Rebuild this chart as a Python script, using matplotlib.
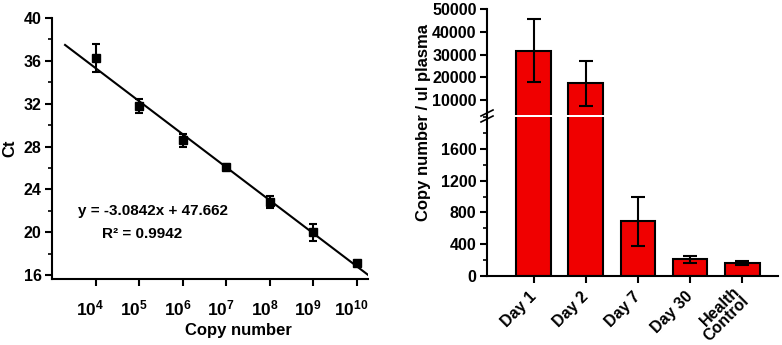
import matplotlib
matplotlib.use("Agg")
import matplotlib.pyplot as plt
from matplotlib.lines import Line2D
from matplotlib.ticker import MultipleLocator
from matplotlib.transforms import ScaledTranslation
import numpy as np

plt.rcParams["font.family"] = ["Liberation Sans", "DejaVu Sans"]
plt.rcParams["font.weight"] = "bold"
plt.rcParams["mathtext.fontset"] = "custom"
plt.rcParams["mathtext.rm"] = "Liberation Sans:bold"
plt.rcParams["mathtext.bf"] = "Liberation Sans:bold"
plt.rcParams["mathtext.it"] = "Liberation Sans:bold"

# standard curve: log10(copy number) vs Ct
log_copies = [4, 5, 6, 7, 8, 9, 10]
ct_mean = [36.25, 31.75, 28.6, 26.1, 22.85, 20.0, 17.1]
ct_err = [1.3, 0.65, 0.6, 0.3, 0.55, 0.8, 0.15]
fit_slope = -3.0842
fit_intercept = 47.662
fit_range = [3.3, 10.3]

# plasma copy number per time point
days = ["Day 1", "Day 2", "Day 7", "Day 30", "Health\nControl"]
copies = [31800, 17300, 690, 210, 168]
copies_err = [13900, 9800, 310, 45, 25]

RED = "#f00000"
LW = 1.5
FS = 11.5

fig = plt.figure(figsize=(7.82, 3.45), dpi=100)
W, H = 782, 345


def px_axes(left, top, right, bottom):
    return fig.add_axes([left / W, 1 - bottom / H, (right - left) / W, (bottom - top) / H])


def style(ax):
    for s in ("top", "right"):
        ax.spines[s].set_visible(False)
    for s in ("left", "bottom"):
        ax.spines[s].set_linewidth(LW)
    ax.tick_params(which="major", length=5, width=LW, labelsize=FS, pad=2.5)
    ax.tick_params(which="minor", length=3, width=1.2)
    for lbl in ax.get_xticklabels() + ax.get_yticklabels():
        lbl.set_fontweight("bold")


# ---- left panel ----
ax1 = px_axes(52, 18, 368, 279)
ax1.errorbar(log_copies, ct_mean, yerr=ct_err, fmt="s", color="black",
             ms=5.5, capsize=3, elinewidth=LW, capthick=LW)
xf = np.array(fit_range)
ax1.plot(xf, fit_slope * xf + fit_intercept, color="black", lw=LW)
ax1.set_xlim(3, 10.26)
ax1.set_ylim(15.63, 40)
ax1.set_yticks([16, 20, 24, 28, 32, 36, 40])
ax1.yaxis.set_minor_locator(MultipleLocator(2))
ax1.set_xticks(log_copies)
ax1.set_xticklabels([rf"$10^{{{n}}}$" for n in log_copies])
style(ax1)
ax1.tick_params(axis="x", pad=9, labelsize=12.5)
shift = ScaledTranslation(-5 / 100, 0, fig.dpi_scale_trans)
for lbl in ax1.get_xticklabels():
    lbl.set_transform(lbl.get_transform() + shift)
ax1.set_ylabel("Ct", fontsize=FS + 0.5, fontweight="bold")
ax1.yaxis.set_label_coords(-0.11, 0.5)
ax1.set_xlabel("Copy number", fontsize=FS + 0.5, fontweight="bold")
ax1.xaxis.set_label_coords(0.59, -0.17)
ax1.text(3.6, 21.6, f"y = {fit_slope}x + {fit_intercept}", fontsize=11, fontweight="bold")
ax1.text(4.15, 19.5, "R² = 0.9942", fontsize=11, fontweight="bold")

# ---- right panel (broken axis) ----
x = np.arange(len(days))
ax_hi = px_axes(487, 9.3, 778, 115)
ax_lo = px_axes(487, 117, 778, 276)
for ax in (ax_hi, ax_lo):
    ax.bar(x, copies, width=0.67, color=RED, edgecolor="black", linewidth=LW, zorder=2)
    ax.errorbar(x, copies, yerr=copies_err, fmt="none", ecolor="black",
                capsize=5, elinewidth=LW, capthick=LW, zorder=3)
    ax.set_xlim(-0.9, 4.69)
    style(ax)

ax_hi.set_ylim(3400, 50000)
ax_hi.set_yticks([10000, 20000, 30000, 40000, 50000])
ax_hi.spines["bottom"].set_visible(False)
ax_hi.tick_params(axis="x", bottom=False, labelbottom=False)

ax_lo.set_ylim(0, 2000)
ax_lo.set_yticks([0, 400, 800, 1200, 1600])
ax_lo.yaxis.set_minor_locator(MultipleLocator(200))
ax_lo.set_xticks(x)
ax_lo.set_xticklabels(days, rotation=45, ha="right", va="center", rotation_mode="anchor",
                      fontsize=FS, fontweight="bold", linespacing=0.85)
ax_lo.tick_params(axis="x", pad=8)
for lbl in ax_lo.get_xticklabels():
    lbl.set_fontweight("bold")

# break marks on left spine
for yb in (113, 119):
    fig.add_artist(Line2D([(481) / W, (493) / W], [1 - (yb + 3) / H, 1 - (yb - 3) / H],
                          color="black", lw=1.2))

fig.text(423 / W, 1 - 123 / H, "Copy number / ul plasma", rotation=90,
         ha="center", va="center", fontsize=FS + 0.5, fontweight="bold")

fig.savefig("out.png", dpi=100)
